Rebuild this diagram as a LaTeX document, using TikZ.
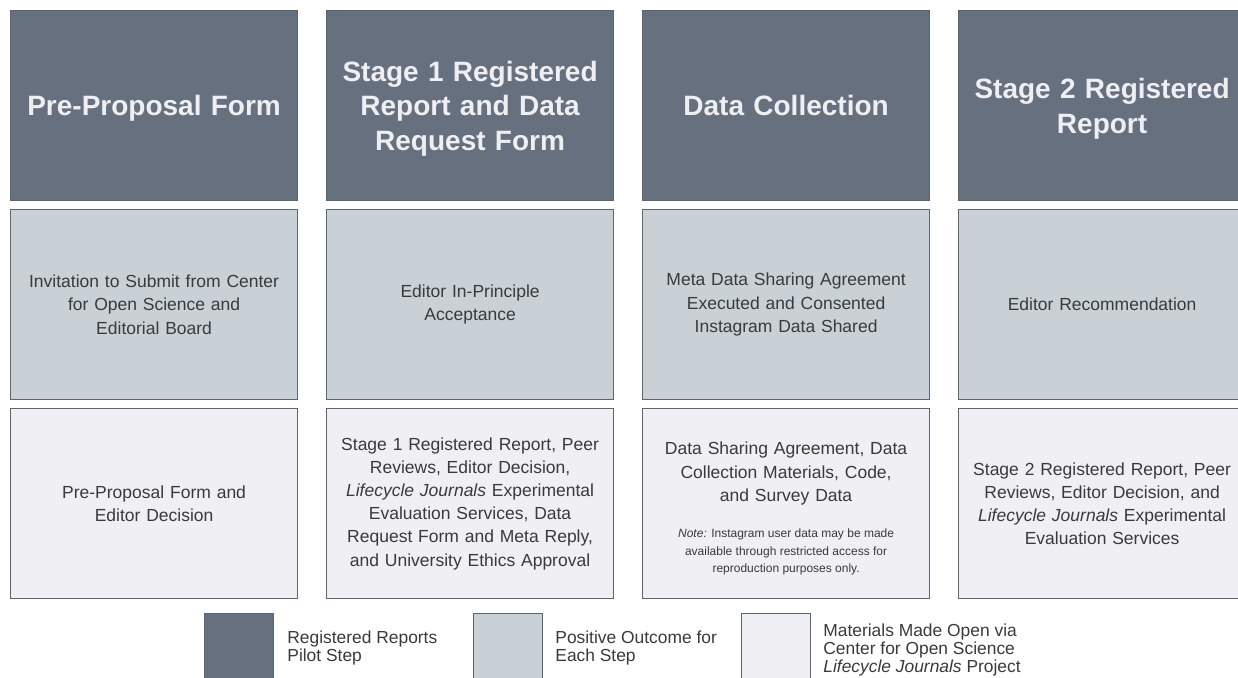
\documentclass[tikz,border=0pt]{standalone}
\usepackage{fontspec}
\setmainfont{Liberation Sans}
\usepackage{tikz}
\usetikzlibrary{positioning}

\definecolor{pilotfill}{HTML}{67707F}
\definecolor{outcomefill}{HTML}{C9D1D6}
\definecolor{openfill}{HTML}{F0F0F4}
\definecolor{boxedge}{HTML}{5B656F}
\definecolor{headtext}{HTML}{EEEEF3}
\definecolor{bodytext}{HTML}{3A3A3A}

\newcommand{\headlift}{\rule{0pt}{13.2pt}}
\newcommand{\collectnote}{\par\vskip 9.5pt{\centering\fontsize{6}{8.75}\selectfont\spaceskip=0pt\xspaceskip=0pt\textit{Note:} Instagram user data may be made\\available through restricted access for\\reproduction purposes only.\par}}

\tikzset{
  cell/.style={draw=boxedge, line width=0.6pt, minimum width=143.5pt, minimum height=95pt,
    text width=140pt, inner sep=0pt, align=center, anchor=north west},
  pilotbox/.style={cell, fill=pilotfill, text=headtext, font=\fontsize{14}{17.2}\selectfont\bfseries},
  outcomebox/.style={cell, fill=outcomefill, text=bodytext, font=\fontsize{8.75}{11.7}\selectfont},
  openbox/.style={cell, fill=openfill, text=bodytext, font=\fontsize{8.75}{11.6}\selectfont},
  keybox/.style={draw=boxedge, line width=0.6pt, minimum width=34.5pt, minimum height=38pt,
    inner sep=0pt, anchor=north west},
  keytext/.style={anchor=west, align=left, inner sep=0pt, text=bodytext, font=\fontsize{8.7}{9}\selectfont}
}

\begin{document}
\begin{tikzpicture}[x=0.5pt, y=-0.5pt]
    \useasboundingbox (0,0) rectangle (1238,678);
    \fill[white] (0,0) rectangle (1238,678);

    % Pilot steps (top row)
    \foreach \i/\t in {1/{\headlift Pre-Proposal Form}, 2/{\headlift Stage 1 Registered\\Report and Data\\Request Form}, 3/{Data Collection}, 4/{\headlift Stage 2 Registered\\Report}} {
      \node[pilotbox] (pilot\i) at ({10+(\i-1)*316},10) {\t};
    }

    % Positive outcome of each step
    \foreach \i/\t in {1/{Invitation to Submit from Center\\for Open Science and\\Editorial Board}, 2/{Editor In-Principle\\Acceptance}, 3/{Meta Data Sharing Agreement\\Executed and Consented\\Instagram Data Shared}, 4/{Editor Recommendation}} {
      \node[outcomebox] (outcome\i) at ({10+(\i-1)*316},209) {\t};
    }

    % Materials made open
    \foreach \i/\t in {1/{Pre-Proposal Form and\\Editor Decision}, 2/{Stage 1 Registered Report, Peer\\Reviews, Editor Decision,\\\textit{Lifecycle Journals} Experimental\\Evaluation Services, Data\\Request Form and Meta Reply,\\and University Ethics Approval}, 3/{\rule{0pt}{11.5pt}Data Sharing Agreement, Data\\Collection Materials, Code,\\and Survey Data\collectnote}, 4/{Stage 2 Registered Report, Peer\\Reviews, Editor Decision, and\\\textit{Lifecycle Journals} Experimental\\Evaluation Services}} {
      \node[openbox] (open\i) at ({10+(\i-1)*316},408) {\t};
    }

    % Legend
    \foreach \i/\f/\y/\t in {1/pilotfill/648/{Registered Reports\\Pilot Step}, 2/outcomefill/648/{Positive Outcome for\\Each Step}, 3/openfill/650/{Materials Made Open via\\Center for Open Science\\\textit{Lifecycle Journals} Project}} {
      \node[keybox, fill=\f] (key\i) at ({204+(\i-1)*268.5},613) {};
      \node[keytext] (keylabel\i) at ({287+(\i-1)*268},\y) {\t};
    }
\end{tikzpicture}
\end{document}
